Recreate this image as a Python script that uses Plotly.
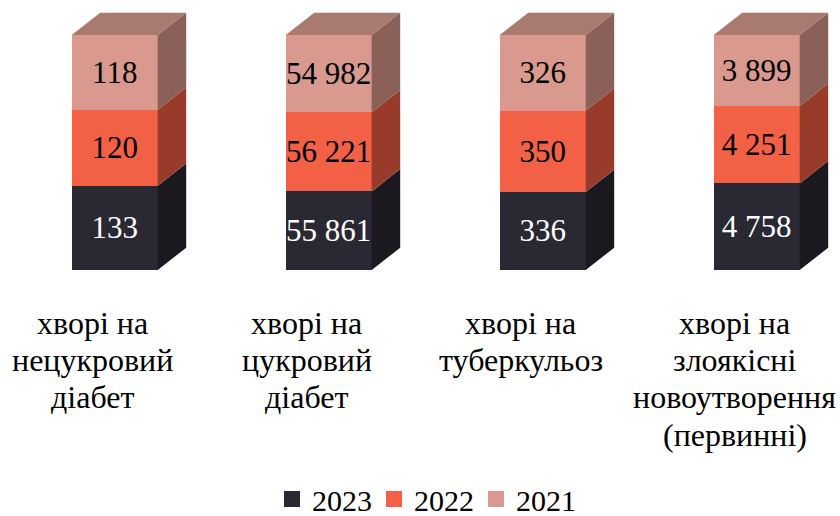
import plotly.graph_objects as go

# ---------------------------
# DATA
# ---------------------------

categories = [
    ["хворі на", "нецукровий", "діабет"],
    ["хворі на", "цукровий", "діабет"],
    ["хворі на", "туберкульоз"],
    ["хворі на", "злоякісні", "новоутворення", "(первинні)"],
]
years = ["2023", "2022", "2021"]
values_2023 = [133, 55861, 336, 4758]
values_2022 = [120, 56221, 350, 4251]
values_2021 = [118, 54982, 326, 3899]

series = [values_2023, values_2022, values_2021]
front_colors = ["#2A2833", "#F26046", "#D9998E"]
side_colors = ["#1B191F", "#983B2A", "#8A6058"]
top_color = "#A87A70"
text_colors = ["white", "black", "black"]

FONT = "Liberation Serif"

# pixel layout of the picture, turned into axis units below
WIDTH, HEIGHT = 840, 516
FIRST_X, STEP_X = 114.7, 214
BASE_Y, FULL_Y = 270, 235
BAR_WIDTH = 86 / STEP_X
DEPTH_X = 28.5 / STEP_X
DEPTH_Y = 22.3 / FULL_Y * 100

x_pos = list(range(len(categories)))


def fmt(v):
    return f"{v:,}".replace(",", " ")


fig = go.Figure()

# ---------------------------
# FRONT FACES
# ---------------------------

for name, vals, color, txt in zip(years, series, front_colors, text_colors):
    fig.add_trace(
        go.Bar(
            x=x_pos,
            y=vals,
            width=BAR_WIDTH,
            name=name,
            marker=dict(color=color, line=dict(width=0)),
            text=[fmt(v) for v in vals],
            textposition="inside",
            insidetextanchor="middle",
            textangle=0,
            constraintext="none",
            textfont=dict(family=FONT, size=31, color=txt),
            showlegend=False,
            hoverinfo="skip",
        )
    )

# ---------------------------
# SIDE AND TOP FACES
# ---------------------------

totals = [sum(col) for col in zip(*series)]


def add_face(xs, ys, color):
    fig.add_trace(
        go.Scatter(
            x=xs,
            y=ys,
            mode="lines",
            fill="toself",
            fillcolor=color,
            line=dict(width=0),
            showlegend=False,
            hoverinfo="skip",
        )
    )


for i, xc in enumerate(x_pos):
    right = xc + BAR_WIDTH / 2
    left = xc - BAR_WIDTH / 2
    low = 0
    for vals, color in zip(series, side_colors):
        high = low + vals[i] / totals[i] * 100
        add_face(
            [right, right + DEPTH_X, right + DEPTH_X, right, right],
            [low, low + DEPTH_Y, high + DEPTH_Y, high, low],
            color,
        )
        low = high
    add_face(
        [left, right, right + DEPTH_X, left + DEPTH_X, left],
        [100, 100, 100 + DEPTH_Y, 100 + DEPTH_Y, 100],
        top_color,
    )

# ---------------------------
# LEGEND ENTRIES
# ---------------------------

for name, color in zip(years, front_colors):
    fig.add_trace(
        go.Scatter(
            x=[None],
            y=[None],
            mode="markers",
            name=name,
            marker=dict(symbol="square", size=16, color=color),
        )
    )

# ---------------------------
# CATEGORY LABELS
# ---------------------------

for xc, lines in zip(x_pos, categories):
    for n, line in enumerate(lines):
        fig.add_annotation(
            x=xc,
            xshift=-22,
            yref="paper",
            y=1 - (323 + 37.2 * n) / HEIGHT,
            yanchor="middle",
            text=line,
            showarrow=False,
            font=dict(family=FONT, size=32, color="black"),
        )

fig.update_layout(
    width=WIDTH,
    height=HEIGHT,
    autosize=False,
    barmode="stack",
    barnorm="percent",
    plot_bgcolor="white",
    paper_bgcolor="white",
    margin=dict(l=0, r=0, t=0, b=0, autoexpand=False),
    xaxis=dict(
        visible=False,
        range=[-FIRST_X / STEP_X, (WIDTH - FIRST_X) / STEP_X],
    ),
    yaxis=dict(
        visible=False,
        range=[-(HEIGHT - BASE_Y) / FULL_Y * 100, BASE_Y / FULL_Y * 100],
    ),
    legend=dict(
        orientation="h",
        x=425 / WIDTH,
        xanchor="center",
        y=1 - 499 / HEIGHT,
        yanchor="middle",
        font=dict(family=FONT, size=30, color="black"),
        traceorder="normal",
        itemwidth=30,
        entrywidth=57,
        bgcolor="rgba(0,0,0,0)",
    ),
)

# the page's default 8px body margin would push the figure off the window
fig.write_html(
    "out.html",
    config=dict(displayModeBar=False),
    post_script="document.body.style.margin = '0';",
)
